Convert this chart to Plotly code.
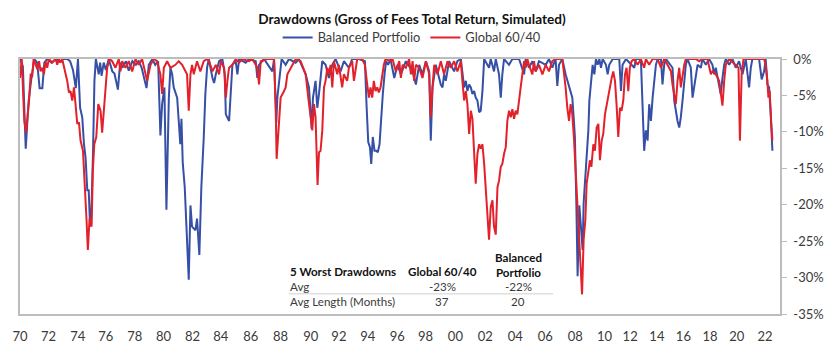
import plotly.graph_objects as go

# ---------------- data (drawdown in %, time in fractional years) ----------------
bal_year = [
    1970.0, 1970.2, 1970.4, 1970.6, 1970.8, 1971.0, 1971.2, 1971.37, 1971.56, 1971.7,
    1971.9, 1972.2, 1972.5, 1972.8, 1973.0, 1973.3, 1973.5, 1973.7, 1973.9, 1974.05,
    1974.2, 1974.35, 1974.47, 1974.58, 1974.7, 1974.8, 1974.88, 1974.96, 1975.1, 1975.2,
    1975.3, 1975.5, 1975.6, 1975.7, 1975.85, 1976.0, 1976.2, 1976.45, 1976.6, 1976.84,
    1977.0, 1977.15, 1977.4, 1977.6, 1977.85, 1978.1, 1978.3, 1978.5, 1978.84, 1979.0,
    1979.25, 1979.45, 1979.65,
    1979.81, 1979.93, 1980.09, 1980.23, 1980.4, 1980.51, 1980.63, 1980.74, 1980.98, 1981.09,
    1981.2, 1981.28, 1981.37, 1981.51, 1981.63, 1981.79, 1981.91, 1982.02, 1982.26, 1982.37,
    1982.53, 1982.67, 1982.84, 1982.95, 1983.07, 1983.19,
    1983.45, 1983.56, 1983.68, 1983.91, 1984.14, 1984.31, 1984.38, 1984.49, 1984.61, 1984.72,
    1984.84, 1985.07, 1985.19, 1985.31, 1985.77, 1986.0, 1986.47, 1986.58, 1986.7, 1987.05,
    1987.63, 1987.75, 1987.91, 1987.98, 1988.14, 1988.28, 1988.56, 1988.79, 1989.26, 1989.49,
    1989.96, 1990.19, 1990.38, 1990.47, 1990.65, 1990.77, 1990.89, 1991.0, 1991.12, 1991.35,
    1991.58, 1991.82, 1992.05, 1992.4, 1992.63, 1992.98, 1993.21, 1993.68, 1994.1, 1994.21,
    1994.33, 1994.45, 1994.54, 1994.65, 1994.77, 1994.89, 1995.0, 1995.12, 1995.24, 1995.35,
    1995.47, 1995.58, 1995.72, 1995.89,
    1996.15, 1996.38, 1996.61, 1996.96, 1997.43, 1997.66, 1997.89, 1998.12, 1998.36, 1998.59,
    1998.7, 1998.82, 1999.05, 1999.4, 1999.52, 1999.63, 1999.75, 1999.98, 2000.33, 2000.56,
    2000.8, 2000.91, 2001.03, 2001.15, 2001.26, 2001.38, 2001.5, 2001.61, 2001.73, 2001.84,
    2001.96, 2002.08, 2002.19, 2002.31, 2002.43, 2002.77, 2002.89, 2003.12, 2003.24, 2003.47,
    2003.59, 2003.7, 2003.82, 2004.17, 2004.4, 2004.87, 2005.22, 2005.33, 2005.56, 2005.8,
    2006.03, 2006.26, 2006.73, 2006.96, 2007.19, 2007.42, 2007.54, 2007.66, 2007.89, 2008.12,
    2008.36, 2008.59, 2008.7, 2008.77, 2008.87, 2008.96,
    2009.08, 2009.2, 2009.31, 2009.38, 2009.5, 2009.59, 2009.71, 2009.78, 2009.89, 2010.01,
    2010.13, 2010.24, 2010.36, 2010.48, 2010.59, 2010.71, 2010.94, 2011.06, 2011.17, 2011.41,
    2011.87, 2011.99, 2012.1, 2012.34, 2012.92, 2013.03, 2013.38, 2013.5, 2013.61, 2013.73,
    2013.85, 2013.96, 2014.08, 2014.2, 2014.31, 2014.43, 2014.55, 2014.78, 2014.89, 2015.01,
    2015.13, 2015.59, 2015.71, 2015.82, 2015.94, 2016.06, 2016.17, 2016.29, 2016.41, 2016.52,
    2016.64, 2016.87, 2016.99, 2017.1, 2017.22, 2017.34, 2017.57, 2017.68, 2017.92, 2018.15,
    2018.38, 2018.5, 2018.61, 2018.85, 2018.96, 2019.08, 2019.2, 2019.31, 2019.55, 2019.78,
    2020.01, 2020.24, 2020.48, 2020.71, 2020.94, 2021.06, 2021.17, 2021.64, 2021.82, 2021.99,
    2022.1, 2022.22, 2022.34, 2022.45, 2022.57,
]
bal_dd = [
    0, -1.0, -12.3, -5.8, -2.6, 0, -0.5, -4.0, -4.0, -0.5,
    0, -0.5, 0, -0.4, 0, 0, -0.3, -1.5, -4.0, 0,
    -6.7, -8.0, -11.7, -13.5, -18.0, -18.0, -22.1, -23.0, -13.0, -3.0,
    0, -2.1, -0.5, -2.3, -0.5, -1.5, 0, -1.7, -2.0, -4.2,
    -0.5, -1.2, -0.3, -1.6, -0.3, -0.8, -0.3, -1.2, -4.0, -0.8,
    0, -0.8, -0.3,
    -10.5, -6.2, -3.9, -20.7, -5.3, -1.2, -2.1, -3.9, -5.3, -8.5,
    -11.7, -8.2, -14.2, -17.6, -23.0, -30.3, -20.1, -23.0, -23.5, -21.9,
    -26.9, -17.6, -10.7, -4.8, -1.2, 0,
    -2.6, -3.3, -2.1, -0.3, 0, -2.1, -7.6, -8.0, -8.5, -4.8,
    -0.8, -0.3, -2.1, 0, -0.5, 0, -0.3, -2.6, -0.8, 0,
    -1.7, 0, -8.7, -5.3, -2.1, 0, -0.8, 0, -0.5, 0,
    -2.1, -3.9, -9.6, -5.3, -3.0, -6.7, -4.8, -2.1, -0.3, -0.8,
    -2.6, -0.8, 0, -1.7, -0.3, -1.2, 0, 0, -0.3, -6.2,
    -11.4, -12.1, -14.4, -10.7, -12.6, -12.6, -12.8, -11.7, -7.6, -4.8,
    -2.1, -0.3, -0.8, 0,
    -2.6, -0.8, -2.1, -0.3, -1.7, -3.5, -0.8, -2.1, -0.3, -1.7,
    -11.2, -3.9, -0.8, -3.5, -3.9, -2.1, -3.0, -0.3, -1.7, -0.3,
    0, -2.1, -3.9, -3.0, -4.4, -3.5, -3.9, -4.8, -4.4, -5.3,
    -5.7, -7.3, -7.1, -4.4, 0, -1.2, 0, -1.7, 0, -2.1,
    -5.3, -2.1, 0, -0.8, 0, 0, -2.1, 0, -1.2, -0.3,
    -1.7, -0.3, -0.8, 0, -1.2, 0, -3.7, -0.8, 0, -2.1,
    -3.9, -5.3, -8.5, -10.7, -19.8, -29.8,
    -20.1, -23.5, -26.2, -19.8, -16.2, -12.1, -9.8, -5.7, -3.0, -0.8,
    -2.1, 0, -0.8, 0, -1.2, 0, -0.8, -2.1, -0.8, 0,
    0, -4.4, -0.8, 0, -1.2, 0, 0, -7.6, -12.6, -9.8,
    -11.2, -6.2, -8.5, -5.3, -3.0, -0.8, 0, 0, -3.5, -0.8,
    0, -1.2, -5.7, -7.3, -8.5, -9.4, -8.0, -5.7, -3.0, -0.8,
    0, -1.2, -5.3, -3.9, -2.1, -0.8, -1.2, 0, -0.8, 0,
    -0.8, -2.1, -1.2, -3.5, -4.8, -2.6, -0.8, 0, -0.8, 0,
    -1.2, -0.3, -2.1, 0, -3.9, -1.2, 0, 0, -2.8, -1.7,
    0, -3.5, -3.9, -7.6, -12.6,
]

g6040_year = [
    1970.0, 1970.12, 1970.3, 1970.42, 1970.63, 1970.75, 1970.85, 1970.95, 1971.21, 1971.33,
    1971.44, 1971.56, 1971.67, 1971.79, 1971.9, 1972.02, 1972.26, 1972.49, 1972.6, 1972.72,
    1972.83, 1972.95, 1973.19, 1973.3, 1973.42, 1973.53, 1973.65, 1973.77, 1973.88, 1974.0,
    1974.12, 1974.23, 1974.4, 1974.53, 1974.65, 1974.74, 1974.86, 1975.0, 1975.09, 1975.19,
    1975.33, 1975.47, 1975.63, 1975.74, 1975.86, 1975.98, 1976.09, 1976.26,
    1976.44, 1976.67, 1976.9, 1977.02, 1977.14, 1977.37, 1977.6, 1977.84, 1978.07, 1978.3,
    1978.53, 1978.88, 1979.12, 1979.35, 1979.58, 1979.81, 1979.93, 1980.05, 1980.28, 1980.51,
    1980.86, 1981.09, 1981.33, 1981.67, 1981.79, 1981.91, 1982.02, 1982.14, 1982.26, 1982.37,
    1982.6, 1982.84, 1983.07,
    1983.21, 1983.45, 1983.68, 1983.91, 1984.03, 1984.26, 1984.38, 1984.49, 1984.61, 1984.84,
    1985.07, 1985.31, 1985.54, 1986.0, 1986.24, 1986.58, 1986.7, 1986.82, 1987.28, 1987.75,
    1987.86, 1987.93, 1988.1, 1988.21, 1988.45, 1988.56, 1988.68, 1988.91, 1989.14, 1989.26,
    1989.61, 1989.96, 1990.14, 1990.31, 1990.42, 1990.54, 1990.65, 1990.79, 1990.89, 1991.0,
    1991.12, 1991.24, 1991.35, 1991.47, 1991.58, 1991.7, 1991.82, 1991.93, 1992.17, 1992.28,
    1992.51, 1992.63, 1992.86, 1992.98, 1993.21, 1993.33, 1993.56, 1993.91, 1994.1, 1994.26,
    1994.38, 1994.49, 1994.61, 1994.72, 1994.84, 1994.96, 1995.07, 1995.19, 1995.31, 1995.42,
    1995.54, 1995.89, 1996.03,
    1996.26, 1996.5, 1996.61, 1996.73, 1996.96, 1997.19, 1997.31, 1997.43, 1997.54, 1997.66,
    1997.89, 1998.12, 1998.36, 1998.59, 1998.7, 1998.82, 1998.94, 1999.17, 1999.4, 1999.63,
    1999.87, 2000.1, 2000.33, 2000.56, 2000.8, 2000.91, 2001.03, 2001.15, 2001.26, 2001.38,
    2001.5, 2001.61, 2001.73, 2001.84, 2001.96, 2002.08, 2002.19, 2002.31, 2002.43, 2002.54,
    2002.66, 2002.77, 2002.89, 2003.01, 2003.12, 2003.24, 2003.36, 2003.47, 2003.59, 2003.7,
    2003.82, 2003.94, 2004.05, 2004.17, 2004.29, 2004.4, 2004.52, 2004.63, 2004.75, 2004.87,
    2004.98, 2005.1, 2005.22, 2005.33, 2005.45, 2005.56, 2005.8, 2005.91, 2006.03, 2006.26,
    2006.5, 2006.73, 2006.96, 2007.19, 2007.42, 2007.89, 2008.01, 2008.12, 2008.24, 2008.36,
    2008.47, 2008.59, 2008.7, 2008.82, 2008.94, 2009.05,
    2009.15, 2009.27, 2009.38, 2009.5, 2009.59, 2009.73, 2009.82, 2009.92, 2010.06, 2010.17,
    2010.29, 2010.41, 2010.52, 2010.64, 2010.75, 2010.87, 2010.99, 2011.1, 2011.22, 2011.34,
    2011.45, 2011.57, 2011.68, 2011.8, 2011.92, 2012.03, 2012.15, 2012.27, 2012.38, 2012.5,
    2012.61, 2012.73, 2012.92, 2013.15, 2013.38, 2013.61, 2013.73, 2013.96, 2014.2, 2014.55,
    2014.78, 2015.01, 2015.24, 2015.48, 2015.59, 2015.71, 2015.82, 2015.94, 2016.06, 2016.17,
    2016.29, 2016.41, 2016.52, 2017.22, 2017.45, 2017.68, 2018.03, 2018.27, 2018.38, 2018.61,
    2018.85, 2018.96, 2019.08, 2019.2, 2019.31, 2019.55, 2020.2, 2020.3, 2020.42, 2020.55,
    2021.99, 2022.1, 2022.22, 2022.29, 2022.38, 2022.48, 2022.57,
]
g6040_dd = [
    -2.6, 0, -8.5, -10.1, -5.8, -2.0, -2.5, 0, -1.4, -0.3,
    -1.7, -1.2, -2.1, -0.3, -1.2, 0, -0.5, 0, -0.8, 0,
    -0.5, 0, -2.1, -3.0, -4.6, -4.4, -5.7, -3.9, -6.2, -8.9,
    -8.7, -11.2, -12.6, -16.7, -22.1, -26.2, -21.9, -23.0, -15.3, -11.7,
    -10.7, -6.2, -7.1, -10.1, -6.7, -3.9, -1.2, 0,
    -0.3, -1.2, 0, -1.7, -0.3, -1.2, -0.3, -1.7, 0, -0.8,
    0, -3.0, -0.8, 0, -0.3, -2.1, -4.8, -1.2, -0.3, -1.2,
    -0.8, -0.3, -0.8, -2.1, -7.1, -2.1, -0.8, -2.1, -1.2, -0.3,
    -1.7, -0.3, 0,
    -0.3, -1.7, -0.8, -2.1, -0.3, -1.2, -5.3, -3.0, -1.2, -0.8,
    0, -0.5, 0, -0.3, 0, -1.2, -3.5, -0.3, 0, 0,
    -6.2, -13.7, -8.0, -5.3, -4.4, -3.9, -2.1, -1.2, -0.3, 0,
    -0.3, -2.1, -5.3, -8.5, -9.8, -6.2, -8.0, -17.3, -12.8, -12.6,
    -9.8, -3.9, -3.0, -1.2, -2.1, -0.8, -3.9, -0.3, -2.1, -0.8,
    -3.9, -2.1, -3.0, -1.2, -0.3, -3.0, 0, 0, -0.8, -3.5,
    -5.3, -3.9, -5.3, -3.0, -4.4, -3.9, -4.6, -3.9, -2.1, -0.8,
    0, -0.3, 0,
    -1.7, -0.3, -2.6, -0.8, -1.2, 0, -2.1, -0.3, -3.0, -0.8,
    -1.2, -2.6, -0.3, -2.1, -8.0, -3.9, -0.8, -2.1, -0.3, -2.1,
    -0.3, -1.2, -0.3, -1.7, -0.3, -3.0, -5.7, -4.4, -6.2, -10.3,
    -7.1, -8.2, -12.1, -17.1, -13.0, -11.7, -12.3, -11.7, -14.4, -17.6,
    -20.3, -24.8, -20.3, -19.4, -23.0, -24.1, -17.6, -16.7, -14.8, -14.4,
    -13.0, -12.1, -8.5, -7.1, -8.0, -6.9, -8.2, -7.1, -7.6, -5.3,
    -3.9, -2.1, -0.3, -1.2, 0, -0.8, -2.1, -0.3, -1.7, -0.8,
    -2.1, -0.8, -1.7, -0.3, 0, 0, -1.7, -3.9, -6.7, -8.5,
    -6.2, -7.6, -10.7, -15.3, -20.7, -25.0,
    -28.5, -32.3, -24.8, -22.1, -17.1, -15.3, -13.9, -14.8, -11.7, -12.6,
    -9.4, -8.9, -13.9, -11.2, -10.3, -7.6, -6.2, -4.8, -3.5, -2.6,
    -1.7, -3.0, -6.2, -10.7, -6.7, -7.1, -5.7, -2.1, -1.2, -4.4,
    -1.2, -0.3, 0, -0.8, 0, -1.2, 0, -0.8, 0, 0,
    -1.2, 0, -0.8, -1.7, -3.5, -5.3, -6.2, -3.0, -1.2, -3.9,
    -2.1, -0.8, 0, 0, -0.3, 0, 0, -2.1, -1.7, -2.1,
    -3.0, -4.4, -6.4, -3.0, -0.8, 0, -1.2, -11.2, -2.1, 0,
    0, -0.8, -3.0, -5.3, -4.4, -8.5, -11.2,
]

# category labels of the time axis and where the source chart prints them
x_tick_labels = ["70", "72", "74", "76", "78", "80", "82", "84", "86", "88",
                 "90", "92", "94", "96", "98", "00", "02", "04", "06", "08",
                 "10", "12", "14", "16", "18", "20", "22"]
x_tick_pos = [1970.0, 1972.0, 1974.03, 1976.0, 1978.02, 1980.03, 1982.05, 1984.03,
              1986.12, 1988.21, 1990.31, 1992.28, 1994.3, 1996.36, 1998.33, 2000.42,
              2002.51, 2004.61, 2006.7, 2008.8, 2010.84, 2012.63, 2014.5, 2016.35,
              2018.21, 2020.08, 2022.06]
y_tick_vals = [0, -5, -10, -15, -20, -25, -30, -35]
y_tick_labels = ["0%", "-5%", "-10%", "-15%", "-20%", "-25%", "-30%", "-35%"]

table_title = "5 Worst Drawdowns"
table_col_heads = ["Global 60/40", "Balanced<br>Portfolio"]
table_row_labels = ["Avg", "Avg Length (Months)"]
global_stats = ["-23%", "37"]
balanced_stats = ["-22%", "20"]

# ---------------- styling ----------------
FONT = "Lato, 'Open Sans', sans-serif"
BLUE = "#3550A6"
RED = "#E3212B"
AXIS = "#BDBDBD"
TXT = "#3A3A3A"
DARK = "#111111"

fig = go.Figure()
fig.add_trace(go.Scatter(x=bal_year, y=bal_dd, name="Balanced Portfolio", mode="lines",
                         line=dict(color=BLUE, width=2)))
fig.add_trace(go.Scatter(x=g6040_year, y=g6040_dd, name="Global 60/40", mode="lines",
                         line=dict(color=RED, width=2)))

fig.update_layout(
    width=840, height=356,
    margin=dict(l=19, r=60, t=59, b=40),
    paper_bgcolor="white", plot_bgcolor="white",
    font=dict(family=FONT, size=13, color=TXT),
    title=dict(text="<b>Drawdowns (Gross of Fees Total Return, Simulated)</b>",
               x=412 / 840, xref="container", xanchor="center",
               y=1 - 19 / 356, yref="container", yanchor="middle",
               font=dict(family=FONT, size=13.6, color=DARK)),
    showlegend=True,
    legend=dict(orientation="h", x=0.516, xanchor="center", y=1.084, yanchor="middle",
                font=dict(family=FONT, size=12.8, color=TXT), bgcolor="rgba(0,0,0,0)",
                itemwidth=30),
    xaxis=dict(range=[1970, 2023.1], tickmode="array", tickvals=x_tick_pos,
               ticktext=x_tick_labels, showgrid=False, zeroline=False,
               showline=True, linecolor=AXIS, linewidth=1.5, mirror=True,
               ticks="outside", ticklen=10, tickcolor="rgba(0,0,0,0)",
               tickfont=dict(size=13, color=TXT)),
    yaxis=dict(range=[-35, 0], side="right", tickmode="array", tickvals=y_tick_vals,
               ticktext=y_tick_labels, showgrid=False, zeroline=False,
               showline=True, linecolor=AXIS, linewidth=1.5, mirror=True,
               ticks="outside", ticklen=5, tickcolor=AXIS, ticklabelstandoff=4,
               tickfont=dict(size=13, color=TXT)),
)

# ---------------- summary table ----------------
def px_x(px):
    return (px - 19) / 761.0

def px_y(py):
    return (316 - py) / 257.0

col0, col1, col2 = px_x(288), px_x(442), px_x(518)
head_y, row_ys = px_y(272.7), [px_y(288.3), px_y(303.3)]

ann = []
ann.append(dict(text="<b>" + table_title + "</b>", x=col0, y=head_y, xanchor="left",
                yanchor="middle"))
ann.append(dict(text="<b>" + table_col_heads[0] + "</b>", x=col1, y=head_y,
                xanchor="center", yanchor="middle"))
ann.append(dict(text="<b>" + table_col_heads[1] + "</b>", x=col2, y=px_y(281.5),
                xanchor="center", yanchor="bottom"))
for i, lab in enumerate(table_row_labels):
    ann.append(dict(text=lab, x=col0, y=row_ys[i], xanchor="left", yanchor="middle"))
    ann.append(dict(text=global_stats[i], x=col1, y=row_ys[i], xanchor="center",
                    yanchor="middle"))
    ann.append(dict(text=balanced_stats[i], x=col2, y=row_ys[i], xanchor="center",
                    yanchor="middle"))
for a in ann:
    bold = a["text"].startswith("<b>")
    a.update(xref="paper", yref="paper", showarrow=False, borderpad=0,
             font=dict(family=FONT, size=11.6, color=DARK if bold else TXT))
    fig.add_annotation(**a)

fig.add_shape(type="line", xref="paper", yref="paper", x0=px_x(288), x1=px_x(553),
              y0=px_y(295.7), y1=px_y(295.7), line=dict(color="#D0D0D0", width=1))

fig.write_html("out.html", config={"displayModeBar": False},
               post_script="document.body.style.margin='0';document.body.style.padding='0';")
